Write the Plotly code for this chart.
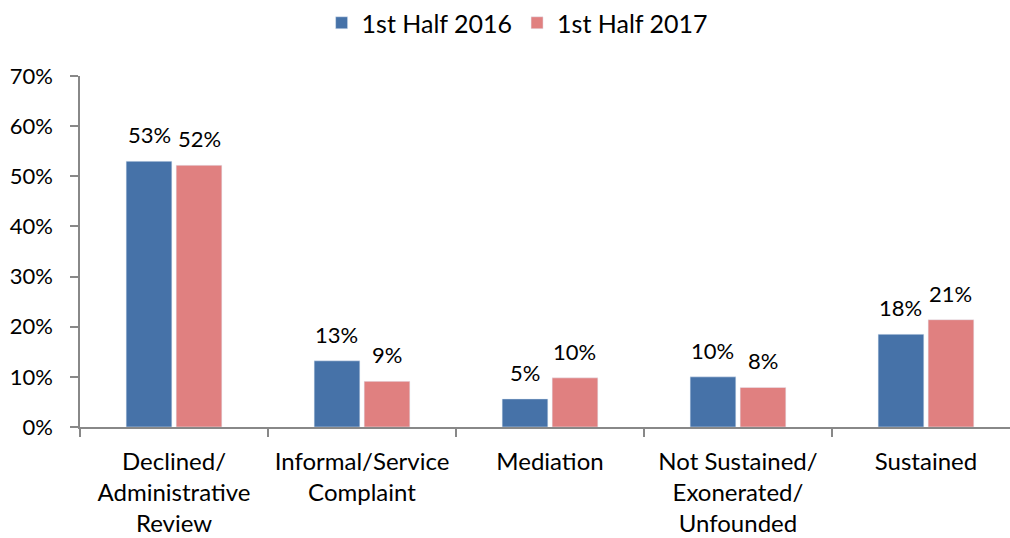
import plotly.graph_objects as go

categories = ["Declined/<br>Administrative<br>Review", "Informal/Service<br>Complaint",
              "Mediation", "Not Sustained/<br>Exonerated/<br>Unfounded", "Sustained"]
h2016 = [0.53, 0.132, 0.056, 0.10, 0.185]
h2017 = [0.522, 0.091, 0.098, 0.079, 0.214]
labels2016 = ["53%", "13%", "5%", "10%", "18%"]
labels2017 = ["52%", "9%", "10%", "8%", "21%"]
ytick_vals = [0, 0.1, 0.2, 0.3, 0.4, 0.5, 0.6, 0.7]
ytick_text = ["0%", "10%", "20%", "30%", "40%", "50%", "60%", "70%"]

FONT = "Lato"
BLUE = "#4672A8"
PINK = "#E08080"
AXIS = "#888888"

fig = go.Figure()
fig.add_trace(go.Bar(name="1st Half 2016", x=categories, y=h2016, marker_color=BLUE))
fig.add_trace(go.Bar(name="1st Half 2017", x=categories, y=h2017, marker_color=PINK))

# data labels above bars
for vals, labs, shift in ((h2016, labels2016, -25), (h2017, labels2017, 25)):
    for c, v, t in zip(categories, vals, labs):
        fig.add_annotation(x=c, y=v, text=t, showarrow=False, xshift=shift, yshift=11,
                           yanchor="bottom", font=dict(family=FONT, size=22, color="#000000"))

fig.update_layout(
    width=1010, height=538,
    margin=dict(l=80, r=0, t=76, b=111, autoexpand=False),
    paper_bgcolor="white", plot_bgcolor="white",
    font=dict(family=FONT, size=20, color="#000000"),
    barmode="group", bargap=0.468, bargroupgap=0.086,
    legend=dict(orientation="h", xref="container", x=0.512, xanchor="center",
                yref="container", y=1.0, yanchor="top",
                font=dict(size=25), itemwidth=30, traceorder="normal"),
)
fig.update_xaxes(range=[-0.5, 4.447], showline=True, linecolor=AXIS, linewidth=1.5,
                 ticks="outside", tickson="boundaries", ticklen=8, tickcolor=AXIS,
                 tickwidth=1.5, tickfont=dict(size=24), ticklabelstandoff=12,
                 showgrid=False, automargin=False)
fig.update_yaxes(range=[0, 0.7], tickvals=ytick_vals, ticktext=ytick_text,
                 showline=True, linecolor=AXIS, linewidth=1.5,
                 ticks="outside", ticklen=8, tickcolor=AXIS, tickwidth=1.5,
                 tickfont=dict(size=22), ticklabelstandoff=13,
                 showgrid=False, zeroline=False, automargin=False)

fig.write_html("out.html", config={"displayModeBar": False},
               post_script="document.body.style.margin='0';document.body.style.padding='0';")
